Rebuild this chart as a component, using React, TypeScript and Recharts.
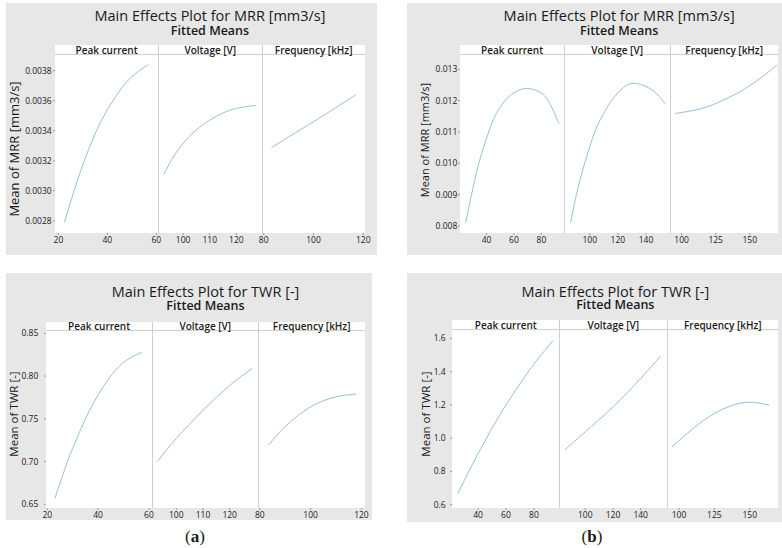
import { LineChart, Line, XAxis, YAxis } from 'recharts';

// ---- data ----
// (a) MRR
const peakA = [22.4, 26, 30, 35, 40, 45, 50, 56.8];
const mrrPeakA = [0.00279, 0.00298, 0.003175, 0.00338, 0.00354, 0.003665, 0.00376, 0.00384];
const voltA = [92.75, 96, 100, 105, 110, 115, 120, 127.25];
const mrrVoltA = [0.003109, 0.003216, 0.003316, 0.003405, 0.003471, 0.003518, 0.003549, 0.003569];
const freqA = [83.1, 90, 100, 110, 116.9];
const mrrFreqA = [0.003287, 0.003359, 0.00346, 0.003565, 0.003638];

// (b) MRR
const peakB = [24.7, 30, 35, 40, 45, 50, 55, 62, 70, 78, 85, 92.8];
const mrrPeakB = [0.0081, 0.0092, 0.0101, 0.0108, 0.0114, 0.0118, 0.01208, 0.0123, 0.01239, 0.01229, 0.012, 0.01127];
const voltB = [86.4, 90.5, 96.4, 103.6, 110, 115.5, 124, 133.3, 145, 153.6];
const mrrVoltB = [0.0081, 0.009, 0.01, 0.011, 0.0116, 0.012, 0.01242, 0.01255, 0.01232, 0.01191];
const freqB = [95.3, 112, 125, 140, 150, 160, 170];
const mrrFreqB = [0.01159, 0.01172, 0.01191, 0.01222, 0.01248, 0.01279, 0.01314];

// (a) TWR
const peakC = [23, 27.6, 30, 34.7, 40, 44.6, 50, 57.3];
const twrPeakA = [0.657, 0.697, 0.7154, 0.748, 0.778, 0.7986, 0.8161, 0.828];
const voltC = [92.9, 100, 110, 120, 128.5];
const twrVoltA = [0.7, 0.727, 0.76, 0.789, 0.809];
const freqC = [83.4, 90, 100, 110, 117.8];
const twrFreqA = [0.7191, 0.741, 0.764, 0.7757, 0.7789];

// (b) TWR
const peakD = [25.7, 35, 46, 59, 75, 85, 93.6];
const twrPeakB = [0.668, 0.826, 0.999, 1.186, 1.388, 1.499, 1.586];
const voltD = [85.5, 100, 120, 140, 154];
const twrVoltB = [0.931, 1.038, 1.188, 1.359, 1.49];
const freqD = [95, 110, 125, 140, 152, 163.7];
const twrFreqB = [0.947, 1.058, 1.148, 1.203, 1.215, 1.198];

const factorLabels = ['Peak current', 'Voltage [V]', 'Frequency [kHz]'];
const ticksA = [[20, 40, 60], [100, 110, 120], [80, 100, 120]];
const ticksB = [[40, 60, 80], [100, 120, 140], [100, 125, 150]];
const yTicksMrrA = [0.0028, 0.003, 0.0032, 0.0034, 0.0036, 0.0038];
const yTicksMrrB = [0.008, 0.009, 0.01, 0.011, 0.012, 0.013];
const yTicksTwrA = [0.65, 0.7, 0.75, 0.8, 0.85];
const yTicksTwrB = [0.6, 0.8, 1.0, 1.2, 1.4, 1.6];

const FONT = "'Open Sans', 'Noto Sans', sans-serif";
const TEXT = '#1a1a1a';
const BG = '#e7e7e7';
const LINE = '#97bfdc';
const GRID = '#cfcfcf';
const TOP_PAD = 8;
const AXIS_H = 18;
const PAD = 14;
const Y_W = 40;

type Facet = { xs: number[]; ys: number[]; domain: [number, number]; ticks: number[] };
type Panel = {
  title: string;
  yLabel: string;
  yLabelSize: number;
  yLabelX: number;
  yLabelY: number;
  bg: [number, number, number, number];
  titleY: number;
  subY: number;
  edges: number[];
  stripTop: number;
  plotTop: number;
  plotBottom: number;
  yDomain: [number, number];
  yTicks: number[];
  yDigits: number;
  yGap: number;
  facets: Facet[];
};

const panels: Panel[] = [
  {
    title: 'Main Effects Plot for MRR [mm3/s]',
    yLabel: 'Mean of MRR [mm3/s]',
    yLabelSize: 13,
    yLabelX: 14,
    yLabelY: 149,
    bg: [6, 3, 371, 252],
    titleY: 16,
    subY: 31,
    edges: [55, 158.3, 262.3, 365],
    stripTop: 45,
    plotTop: 55,
    plotBottom: 232.7,
    yDomain: [0.00272, 0.003904],
    yTicks: yTicksMrrA,
    yDigits: 4,
    yGap: 1.3,
    facets: [
      { xs: peakA, ys: mrrPeakA, domain: [18.6, 60.7], ticks: ticksA[0] },
      { xs: voltA, ys: mrrVoltA, domain: [90.6, 129.6], ticks: ticksA[1] },
      { xs: freqA, ys: mrrFreqA, domain: [79.3, 120.7], ticks: ticksA[2] },
    ],
  },
  {
    title: 'Main Effects Plot for MRR [mm3/s]',
    yLabel: 'Mean of MRR [mm3/s]',
    yLabelSize: 11,
    yLabelX: 424,
    yLabelY: 140,
    bg: [407, 3, 375, 252],
    titleY: 16,
    subY: 31,
    edges: [460, 564.3, 670, 778.3],
    stripTop: 45,
    plotTop: 55,
    plotBottom: 232.7,
    yDomain: [0.007776, 0.013458],
    yTicks: yTicksMrrB,
    yDigits: 3,
    yGap: 0.7,
    facets: [
      { xs: peakB, ys: mrrPeakB, domain: [20.6, 96.5], ticks: ticksB[0] },
      { xs: voltB, ys: mrrVoltB, domain: [81.7, 157.1], ticks: ticksB[1] },
      { xs: freqB, ys: mrrFreqB, domain: [91.5, 170.7], ticks: ticksB[2] },
    ],
  },
  {
    title: 'Main Effects Plot for TWR [-]',
    yLabel: 'Mean of TWR [-]',
    yLabelSize: 11.5,
    yLabelX: 14,
    yLabelY: 414,
    bg: [6, 273, 366, 247],
    titleY: 291.7,
    subY: 305.7,
    edges: [46, 152.3, 258.3, 365],
    stripTop: 321.7,
    plotTop: 331,
    plotBottom: 507.7,
    yDomain: [0.6457, 0.8527],
    yTicks: yTicksTwrA,
    yDigits: 2,
    yGap: 5.7,
    facets: [
      { xs: peakC, ys: twrPeakA, domain: [19.5, 61.2], ticks: ticksA[0] },
      { xs: voltC, ys: twrVoltA, domain: [90.9, 130.6], ticks: ticksA[1] },
      { xs: freqC, ys: twrFreqA, domain: [79.3, 121.4], ticks: ticksA[2] },
    ],
  },
  {
    title: 'Main Effects Plot for TWR [-]',
    yLabel: 'Mean of TWR [-]',
    yLabelSize: 11.5,
    yLabelX: 426,
    yLabelY: 414,
    bg: [407, 273, 375, 249],
    titleY: 291.7,
    subY: 305.3,
    edges: [452.3, 559.3, 667.3, 778.3],
    stripTop: 320,
    plotTop: 330,
    plotBottom: 507.7,
    yDomain: [0.58, 1.65],
    yTicks: yTicksTwrB,
    yDigits: 1,
    yGap: 4.3,
    facets: [
      { xs: peakD, ys: twrPeakB, domain: [21.4, 97.9], ticks: ticksB[0] },
      { xs: voltD, ys: twrVoltB, domain: [81, 159], ticks: ticksB[1] },
      { xs: freqD, ys: twrFreqB, domain: [91.5, 170], ticks: ticksB[2] },
    ],
  },
];

function centered(x: number, y: number): React.CSSProperties {
  return {
    position: 'absolute',
    left: x,
    top: y,
    transform: 'translate(-50%, -50%)',
    whiteSpace: 'nowrap',
    lineHeight: 1,
    fontFamily: FONT,
    color: TEXT,
  };
}

function FacetChart({ p, f, i }: { p: Panel; f: Facet; i: number }) {
  const x0 = p.edges[i];
  const x1 = p.edges[i + 1];
  const first = i === 0;
  const padL = first ? Y_W : PAD;
  const w = Math.round(x1 - x0) + padL + PAD;
  const h = Math.round(p.plotBottom - p.plotTop) + TOP_PAD + AXIS_H;
  const data = f.xs.map((x, k) => ({ x, y: f.ys[k] }));
  const tickStyle = { fill: TEXT, fontSize: 8.5, fontFamily: FONT };
  return (
    <div style={{ position: 'absolute', left: x0 - padL, top: p.plotTop - TOP_PAD }}>
      <LineChart
        width={w}
        height={h}
        data={data}
        margin={{ top: TOP_PAD, right: PAD, bottom: 0, left: first ? 0 : PAD }}
      >
        <XAxis
          dataKey="x"
          type="number"
          domain={f.domain}
          ticks={f.ticks}
          interval={0}
          allowDataOverflow
          height={AXIS_H}
          axisLine={false}
          tickLine={{ stroke: '#999' }}
          tickSize={2}
          tickMargin={1.5}
          tick={tickStyle}
        />
        <YAxis
          type="number"
          domain={p.yDomain}
          ticks={p.yTicks}
          interval={0}
          allowDataOverflow
          hide={!first}
          width={Y_W}
          axisLine={false}
          tickLine={{ stroke: '#999' }}
          tickSize={2}
          tickMargin={p.yGap}
          tickFormatter={(v: number) => v.toFixed(p.yDigits)}
          tick={tickStyle}
        />
        <Line
          type="natural"
          dataKey="y"
          stroke={LINE}
          strokeWidth={1}
          dot={false}
          isAnimationActive={false}
        />
      </LineChart>
    </div>
  );
}

function PanelView({ p }: { p: Panel }) {
  const left = p.edges[0];
  const right = p.edges[3];
  const cx = (left + right) / 2;
  const stripH = p.plotTop - p.stripTop;
  return (
    <>
      <div
        style={{
          position: 'absolute',
          left: p.bg[0],
          top: p.bg[1],
          width: p.bg[2],
          height: p.bg[3],
          background: BG,
        }}
      />
      <div style={{ ...centered(cx, p.titleY), fontSize: 14.5 }}>{p.title}</div>
      <div style={{ ...centered(cx, p.subY), fontSize: 12.5, fontWeight: 600 }}>Fitted Means</div>
      <div
        style={{
          ...centered(p.yLabelX, p.yLabelY),
          fontSize: p.yLabelSize,
          transform: 'translate(-50%, -50%) rotate(-90deg)',
        }}
      >
        {p.yLabel}
      </div>
      <div
        style={{
          position: 'absolute',
          left,
          top: p.stripTop,
          width: right - left,
          height: p.plotBottom - p.stripTop,
          background: '#fff',
        }}
      />
      <div
        style={{
          position: 'absolute',
          left,
          top: p.plotTop - 1,
          width: right - left,
          height: 1,
          background: GRID,
        }}
      />
      {[1, 2].map((k) => (
        <div
          key={k}
          style={{
            position: 'absolute',
            left: p.edges[k] - 0.5,
            top: p.stripTop,
            width: 1,
            height: p.plotBottom - p.stripTop,
            background: GRID,
          }}
        />
      ))}
      {factorLabels.map((lab, k) => (
        <div
          key={lab}
          style={{
            ...centered((p.edges[k] + p.edges[k + 1]) / 2, p.stripTop + stripH / 2),
            fontSize: 10,
            fontWeight: 600,
          }}
        >
          {lab}
        </div>
      ))}
      {p.facets.map((f, i) => (
        <FacetChart key={i} p={p} f={f} i={i} />
      ))}
    </>
  );
}

export default function App() {
  return (
    <div
      style={{
        position: 'absolute',
        left: 0,
        top: 0,
        width: 782,
        height: 548,
        background: '#fff',
        overflow: 'hidden',
      }}
    >
      {panels.map((p, i) => (
        <PanelView key={i} p={p} />
      ))}
      <div style={{ ...centered(195, 536), fontFamily: "'Liberation Serif', 'DejaVu Serif', serif", fontSize: 17 }}>
        (<b>a</b>)
      </div>
      <div style={{ ...centered(592, 536), fontFamily: "'Liberation Serif', 'DejaVu Serif', serif", fontSize: 17 }}>
        (<b>b</b>)
      </div>
    </div>
  );
}
